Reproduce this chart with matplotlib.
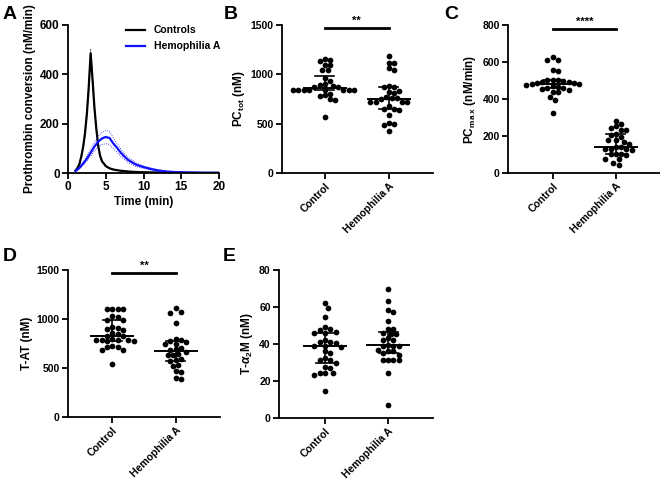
import numpy as np
import matplotlib
matplotlib.use("Agg")
import matplotlib.pyplot as plt

plt.rcParams['font.family'] = ['Liberation Sans', 'DejaVu Sans']
plt.rcParams['font.weight'] = 'bold'
plt.rcParams['axes.labelweight'] = 'bold'
plt.rcParams['mathtext.fontset'] = 'custom'
plt.rcParams['mathtext.rm'] = 'Liberation Sans:bold'
plt.rcParams['mathtext.it'] = 'Liberation Sans:italic:bold'
plt.rcParams['mathtext.bf'] = 'Liberation Sans:bold'

# ---------------- Panel A data ----------------
ctrl_t = [1.0, 1.25, 1.5, 1.75, 2.0, 2.25, 2.5, 2.75, 3.0, 3.25, 3.5, 3.75, 4.0, 4.25, 4.5,
          5.0, 5.5, 6.0, 7.0, 8.0, 9.0, 10, 12, 14, 16, 18, 20]
ctrl_v = [10, 20, 35, 65, 105, 160, 240, 350, 485, 380, 265, 180, 110, 70, 48,
          28, 19, 14, 9, 6, 4, 3, 2, 1, 1, 0.5, 0.5]
ctrl_sem = [1, 2, 3, 5, 7, 9, 12, 15, 18, 14, 10, 7, 5, 3, 2,
            1, 1, 1, 0.5, 0.5, 0.5, 0.5, 0.5, 0.5, 0.5, 0.5, 0.5]
ha_t = [1.0, 1.5, 2.0, 2.5, 3.0, 3.5, 4.0, 4.5, 5.0, 5.5, 6.0, 6.5, 7.0, 7.5, 8.0,
        9.0, 10, 11, 12, 13, 14, 16, 18, 20]
ha_v = [8, 20, 38, 58, 82, 107, 127, 140, 146, 142, 120, 102, 82, 66, 52,
        34, 24, 16, 10, 6, 4, 2, 1, 1]
ha_sem = [1, 3, 6, 10, 14, 18, 22, 25, 27, 26, 22, 18, 15, 12, 10,
          7, 5, 4, 3, 2, 2, 1, 1, 1]

groups = ['Control', 'Hemophilia A']

# ---------------- Scatter data ----------------
pctot_ctrl = [1150, 1160, 1140, 1095, 1095, 1045, 1040, 960, 930, 900, 890, 880,
              840, 838, 842, 840, 845, 838, 842, 840, 870, 875,
              800, 780, 790, 740, 745, 570]
pctot_ha = [1190, 1115, 1110, 1060, 1045, 880, 867, 874, 833, 813, 823, 762, 745, 762, 772,
            721, 721, 721, 721, 653, 637, 653, 677, 586, 508, 501, 484, 423]

pcmax_ctrl = [610, 612, 625, 556, 551, 502, 505, 498, 500, 493, 490, 488, 484, 480, 478,
              482, 470, 466, 462, 460, 455, 448, 439, 436, 412, 394, 325]
pcmax_ha = [282, 264, 253, 245, 231, 231, 213, 204, 195, 177, 168, 177, 132, 141, 141, 132,
            132, 105, 101, 105, 99, 78, 78, 54, 42, 125, 158]

tat_ctrl = [1100, 1100, 1100, 1100, 1030, 1020, 990, 985, 920, 910, 895, 890, 855, 850,
            830, 825, 790, 785, 790, 780, 795, 785, 775, 720, 715, 718, 685, 680, 540]
tat_ha = [1110, 1075, 1065, 955, 800, 790, 775, 765, 745, 740, 700, 690, 685, 660, 640, 635,
          630, 590, 580, 575, 530, 520, 465, 455, 400, 385]

ta2m_ctrl = [62, 59.3, 54.5, 49, 48, 47.6, 46, 45.8, 46.7, 42, 41, 41, 40.4, 39, 38.6, 39,
             35, 36, 32.4, 29.7, 31.5, 31.5, 27, 27.3, 24.3, 23.4, 24.3, 24.3, 14.7]
ta2m_ha = [70, 63, 57.5, 58.4, 52.7, 48, 48, 45.5, 45.3, 45.8, 42, 42, 43, 39, 39, 38.7, 39.5,
           36, 36.8, 35.4, 34.2, 36, 31.5, 31.5, 31.1, 31.5, 24.3, 7.2]

W, H = 660, 486
fig = plt.figure(figsize=(6.6, 4.86), dpi=100)


def add_ax(l, r, top, bot):
    return fig.add_axes([l / W, 1 - bot / H, (r - l) / W, (bot - top) / H])


def style(ax, tsize=8):
    for s in ['top', 'right']:
        ax.spines[s].set_visible(False)
    for s in ['left', 'bottom']:
        ax.spines[s].set_linewidth(1.3)
    ax.tick_params(axis='both', which='major', length=4, width=1.3, labelsize=tsize, pad=2)
    for lab in ax.get_xticklabels() + ax.get_yticklabels():
        lab.set_fontweight('bold')


def swarm_offsets(ax, xc, vals, diam):
    pts = ax.transData.transform([(xc, v) for v in vals])
    x0 = pts[0, 0]
    ys = pts[:, 1]
    order = np.argsort(-np.asarray(vals))
    placed = []
    offs = np.zeros(len(vals))
    step = diam * 0.5
    cands = [0.0]
    for n in range(1, 50):
        cands += [n * step, -n * step]
    for i in order:
        y = ys[i]
        for c in cands:
            ok = True
            for (px, py) in placed:
                if (px - c) ** 2 + (py - y) ** 2 < (diam - 0.01) ** 2:
                    ok = False
                    break
            if ok:
                offs[i] = c
                placed.append((c, y))
                break
    inv = ax.transData.inverted()
    xs = [inv.transform((x0 + o, 0))[0] for o in offs]
    return np.array(xs)


def scatter_panel(ax, data, ylim, yticks, ylabel, xlim):
    ax.set_xlim(*xlim)
    ax.set_ylim(*ylim)
    ax.set_yticks(yticks)
    ax.set_xticks(range(len(groups)))
    ax.set_xticklabels(groups, rotation=45, ha='right', rotation_mode='anchor')
    ax.set_ylabel(ylabel, fontsize=8.5, fontweight='bold', labelpad=3)
    for i, vals in enumerate(data):
        xs = swarm_offsets(ax, i, vals, 5.3)
        ax.scatter(xs, vals, s=17, color='black', zorder=3, linewidths=0)
        med = np.median(vals)
        q1, q3 = np.percentile(vals, [25, 75])
        ax.plot([i - 0.33, i + 0.33], [med, med], color='black', lw=1.4, zorder=4)
        ax.plot([i, i], [q1, q3], color='black', lw=1.2, zorder=4)
        for q in (q1, q3):
            ax.plot([i - 0.15, i + 0.15], [q, q], color='black', lw=1.2, zorder=4)
    style(ax, 7.5)


def sig(ax, y, txt, dy):
    ax.plot([0, 1], [y, y], color='black', lw=2, clip_on=False)
    ax.text(0.5, y + dy, txt, ha='center', va='bottom', fontsize=8, fontweight='bold',
            clip_on=False)


# ---------------- Panel A ----------------
axA = add_ax(68, 219, 25, 173)
axA.plot(ctrl_t, ctrl_v, color='black', lw=1.6, label='Controls')
axA.plot(ctrl_t, np.array(ctrl_v) + np.array(ctrl_sem), color='black', lw=0.6, ls=':')
axA.plot(ctrl_t, np.array(ctrl_v) - np.array(ctrl_sem), color='black', lw=0.6, ls=':')
axA.plot(ha_t, ha_v, color='#1010ff', lw=1.6, label='Hemophilia A')
axA.plot(ha_t, np.array(ha_v) + np.array(ha_sem), color='#1010ff', lw=0.6, ls=':')
axA.plot(ha_t, np.array(ha_v) - np.array(ha_sem), color='#1010ff', lw=0.6, ls=':')
axA.set_xlim(0, 20)
axA.set_ylim(0, 600)
axA.set_xticks([0, 5, 10, 15, 20])
axA.set_yticks([0, 200, 400, 600])
axA.set_xlabel('Time (min)', fontsize=8.5, fontweight='bold', labelpad=2)
axA.set_ylabel('Prothrombin conversion (nM/min)', fontsize=8.5, fontweight='bold', labelpad=3)
leg = axA.legend(loc='upper left', bbox_to_anchor=(0.32, 1.06), frameon=False,
                 fontsize=7.5, handlelength=1.9, handletextpad=0.8, labelspacing=0.55)
for t in leg.get_texts():
    t.set_fontweight('bold')
style(axA, 8.5)

# ---------------- Panel B ----------------
axB = add_ax(282, 433, 25, 173)
scatter_panel(axB, [pctot_ctrl, pctot_ha], (0, 1500), [0, 500, 1000, 1500],
              r'PC$_{\mathrm{tot}}$ (nM)', (-0.67, 1.69))
sig(axB, 1470, '**', 25)

# ---------------- Panel C ----------------
axC = add_ax(508, 660, 25, 173)
scatter_panel(axC, [pcmax_ctrl, pcmax_ha], (0, 800), [0, 200, 400, 600, 800],
              r'PC$_{\mathrm{m\,a\,x}}$ (nM/min)', (-0.71, 1.70))
sig(axC, 778, '****', 12)

# ---------------- Panel D ----------------
axD = add_ax(68, 220, 270, 417)
scatter_panel(axD, [tat_ctrl, tat_ha], (0, 1500), [0, 500, 1000, 1500],
              'T-AT (nM)', (-0.70, 1.70))
sig(axD, 1469, '**', 25)

# ---------------- Panel E ----------------
axE = add_ax(279, 433, 270, 418)
scatter_panel(axE, [ta2m_ctrl, ta2m_ha], (0, 80), [0, 20, 40, 60, 80],
              r'T-$\alpha_{\mathrm{2}}$M (nM)', (-0.73, 1.71))

# ---------------- Panel letters ----------------
for txt, x, y in [('A', 3, 6), ('B', 224, 6), ('C', 444, 6), ('D', 3, 248), ('E', 223, 248)]:
    fig.text(x / W, 1 - y / H, txt, fontsize=14, fontweight='bold', va='top', ha='left')

fig.savefig('out.png', dpi=100)
